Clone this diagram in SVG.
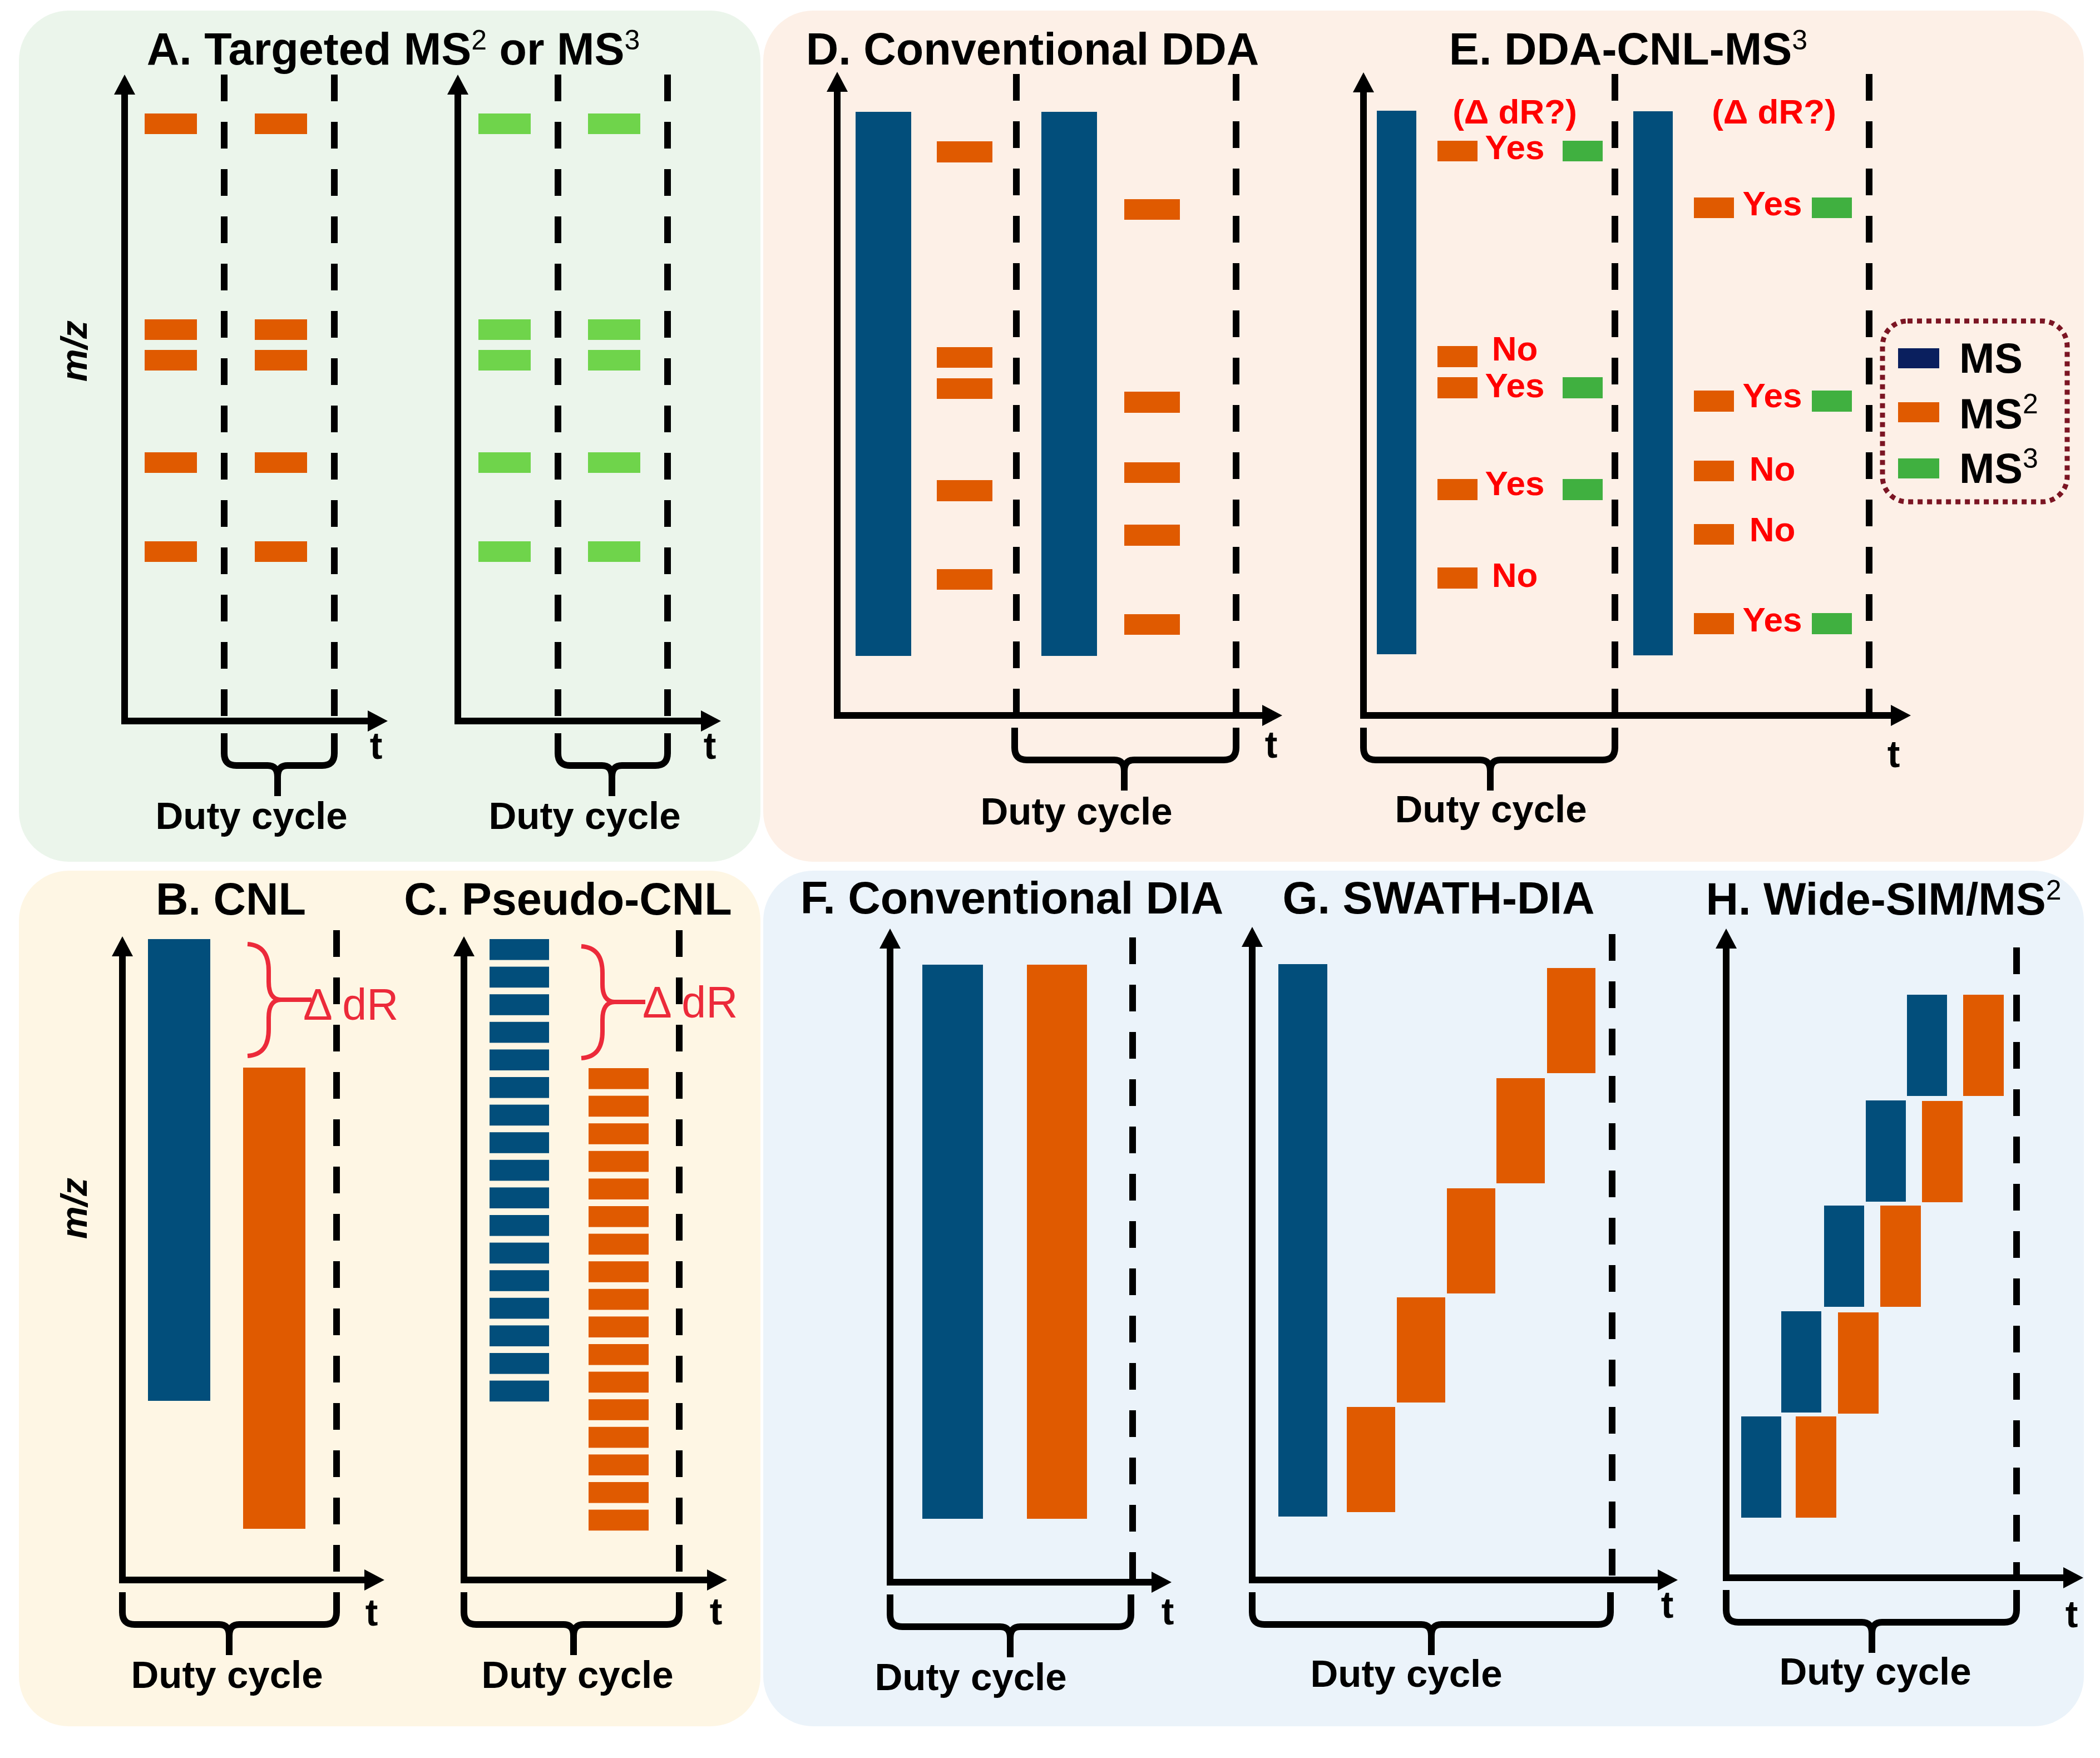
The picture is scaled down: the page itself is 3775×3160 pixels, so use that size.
<svg xmlns="http://www.w3.org/2000/svg" width="3775" height="3160" viewBox="0 0 3775 3160">
<style>
text{font-family:"Liberation Sans",Arial,sans-serif;font-weight:bold;fill:#000}
.ti{font-size:81px;text-anchor:middle}
.sup{font-size:50px;font-weight:normal}
.duty{font-size:69px;text-anchor:middle}
.tl{font-size:68px;text-anchor:middle}
.mz{font-size:66px;font-style:italic;text-anchor:middle}
.red{font-size:62px;text-anchor:middle;fill:#FF0000}
.dr{font-size:79px;font-weight:normal;fill:#EC2A3A}
.ax{fill:none;stroke:#000;stroke-width:12;marker-start:url(#ah);marker-end:url(#ah)}
.dash{stroke:#000;stroke-width:12;stroke-dasharray:48 37}
.br{fill:none;stroke:#000;stroke-width:12}
.rb{fill:none;stroke:#EC2A3A;stroke-width:8}
.o{fill:#E05A00}
.b{fill:#024E7B}
.g1{fill:#6FD44B}
.g2{fill:#40B040}
.lg{font-size:76px}
</style>
<defs>
<marker id="ah" viewBox="0 0 36 38" refX="16" refY="19" markerWidth="36" markerHeight="38" markerUnits="userSpaceOnUse" orient="auto-start-reverse"><path d="M0,0L36,19L0,38z" fill="#000"/></marker>
<path id="rbrace" d="M445,1697 C475,1699 483,1720 483,1745 L483,1765 C483,1785 490,1797 505,1797 C490,1797 483,1809 483,1829 L483,1850 C483,1875 475,1896 445,1898 M503,1797 H560"/>
</defs>
<rect width="3775" height="3160" fill="#fff"/>

<g id="panels">
<rect x="34" y="19" width="1333" height="1530" rx="90" fill="#EBF5EB"/>
<rect x="1372" y="19" width="2374" height="1530" rx="90" fill="#FDF0E7"/>
<rect x="34" y="1565" width="1333" height="1538" rx="90" fill="#FEF6E4"/>
<rect x="1372" y="1565" width="2374" height="1538" rx="90" fill="#EBF3FA"/>
</g>

<g id="panelA">
<text class="ti" x="707" y="116">A. Targeted MS<tspan class="sup" dy="-27">2</tspan><tspan dy="27"> or MS</tspan><tspan class="sup" dy="-27">3</tspan></text>
<text class="mz" transform="translate(156,631) rotate(-90)">m/z</text>
<g id="A-ms2">
<rect class="o" x="260" y="204" width="94" height="37"/><rect class="o" x="458" y="204" width="94" height="37"/>
<rect class="o" x="260" y="574" width="94" height="37"/><rect class="o" x="458" y="574" width="94" height="37"/>
<rect class="o" x="260" y="629" width="94" height="37"/><rect class="o" x="458" y="629" width="94" height="37"/>
<rect class="o" x="260" y="813" width="94" height="37"/><rect class="o" x="458" y="813" width="94" height="37"/>
<rect class="o" x="260" y="973" width="94" height="37"/><rect class="o" x="458" y="973" width="94" height="37"/>
</g>
<g id="A-ms3">
<rect class="g1" x="860" y="204" width="94" height="37"/><rect class="g1" x="1057" y="204" width="94" height="37"/>
<rect class="g1" x="860" y="574" width="94" height="37"/><rect class="g1" x="1057" y="574" width="94" height="37"/>
<rect class="g1" x="860" y="629" width="94" height="37"/><rect class="g1" x="1057" y="629" width="94" height="37"/>
<rect class="g1" x="860" y="813" width="94" height="37"/><rect class="g1" x="1057" y="813" width="94" height="37"/>
<rect class="g1" x="860" y="973" width="94" height="37"/><rect class="g1" x="1057" y="973" width="94" height="37"/>
</g>
<text class="tl" x="676" y="1364">t</text>
<text class="tl" x="1276" y="1364">t</text>
<text class="duty" x="452" y="1490">Duty cycle</text>
<text class="duty" x="1051" y="1490">Duty cycle</text>
</g>

<g id="panelB">
<text class="ti" x="415" y="1644">B. CNL</text>
<text class="mz" transform="translate(156,2172) rotate(-90)">m/z</text>
<rect class="b" x="266" y="1688" width="112" height="830"/>
<rect class="o" x="437" y="1919" width="112" height="829"/>
<use href="#rbrace" class="rb"/>
<text class="dr" x="545" y="1833">Δ dR</text>
<text class="tl" x="668" y="2922">t</text>
<text class="duty" x="408" y="3034">Duty cycle</text>
</g>

<g id="panelC">
<text class="ti" x="1021" y="1644">C. Pseudo-CNL</text>
<g id="C-ms">
<rect class="b" x="880" y="1688" width="107" height="37.6"/><rect class="b" x="880" y="1737.6" width="107" height="37.6"/><rect class="b" x="880" y="1787.2" width="107" height="37.6"/><rect class="b" x="880" y="1836.8" width="107" height="37.6"/><rect class="b" x="880" y="1886.4" width="107" height="37.6"/><rect class="b" x="880" y="1936" width="107" height="37.6"/><rect class="b" x="880" y="1985.6" width="107" height="37.6"/><rect class="b" x="880" y="2035.2" width="107" height="37.6"/><rect class="b" x="880" y="2084.8" width="107" height="37.6"/><rect class="b" x="880" y="2134.4" width="107" height="37.6"/><rect class="b" x="880" y="2184" width="107" height="37.6"/><rect class="b" x="880" y="2233.6" width="107" height="37.6"/><rect class="b" x="880" y="2283.2" width="107" height="37.6"/><rect class="b" x="880" y="2332.8" width="107" height="37.6"/><rect class="b" x="880" y="2382.4" width="107" height="37.6"/><rect class="b" x="880" y="2432" width="107" height="37.6"/><rect class="b" x="880" y="2481.6" width="107" height="37.6"/>
</g>
<g id="C-ms2">
<rect class="o" x="1058" y="1920" width="108" height="37.6"/><rect class="o" x="1058" y="1969.6" width="108" height="37.6"/><rect class="o" x="1058" y="2019.2" width="108" height="37.6"/><rect class="o" x="1058" y="2068.8" width="108" height="37.6"/><rect class="o" x="1058" y="2118.4" width="108" height="37.6"/><rect class="o" x="1058" y="2168" width="108" height="37.6"/><rect class="o" x="1058" y="2217.6" width="108" height="37.6"/><rect class="o" x="1058" y="2267.2" width="108" height="37.6"/><rect class="o" x="1058" y="2316.8" width="108" height="37.6"/><rect class="o" x="1058" y="2366.4" width="108" height="37.6"/><rect class="o" x="1058" y="2416" width="108" height="37.6"/><rect class="o" x="1058" y="2465.6" width="108" height="37.6"/><rect class="o" x="1058" y="2515.2" width="108" height="37.6"/><rect class="o" x="1058" y="2564.8" width="108" height="37.6"/><rect class="o" x="1058" y="2614.4" width="108" height="37.6"/><rect class="o" x="1058" y="2664" width="108" height="37.6"/><rect class="o" x="1058" y="2713.6" width="108" height="37.6"/>
</g>
<use href="#rbrace" class="rb" transform="translate(600,4)"/>
<text class="dr" x="1155" y="1829">Δ dR</text>
<text class="tl" x="1287" y="2920">t</text>
<text class="duty" x="1038" y="3034">Duty cycle</text>
</g>

<g id="panelD">
<text class="ti" x="1856" y="116">D. Conventional DDA</text>
<rect class="b" x="1538" y="201" width="100" height="978"/>
<rect class="b" x="1872" y="201" width="100" height="978"/>
<rect class="o" x="1684" y="254" width="100" height="38"/>
<rect class="o" x="1684" y="624" width="100" height="37"/>
<rect class="o" x="1684" y="680" width="100" height="37"/>
<rect class="o" x="1684" y="863" width="100" height="38"/>
<rect class="o" x="1684" y="1023" width="100" height="37"/>
<rect class="o" x="2021" y="358" width="100" height="37"/>
<rect class="o" x="2021" y="704" width="100" height="38"/>
<rect class="o" x="2021" y="831" width="100" height="37"/>
<rect class="o" x="2021" y="943" width="100" height="38"/>
<rect class="o" x="2021" y="1104" width="100" height="37"/>
<text class="tl" x="2285" y="1362">t</text>
<text class="duty" x="1935" y="1482">Duty cycle</text>
</g>

<g id="panelE">
<text class="ti" x="2927" y="116">E. DDA-CNL-MS<tspan class="sup" dy="-27">3</tspan></text>
<rect class="b" x="2475" y="199" width="71" height="977"/>
<rect class="b" x="2936" y="200" width="71" height="978"/>
<g id="E-left">
<text class="red" x="2723" y="222">(Δ dR?)</text>
<rect class="o" x="2584" y="253" width="72" height="37"/><text class="red" x="2723" y="286">Yes</text><rect class="g2" x="2809" y="253" width="72" height="37"/>
<rect class="o" x="2584" y="622" width="72" height="38"/><text class="red" x="2723" y="648">No</text>
<rect class="o" x="2584" y="678" width="72" height="38"/><text class="red" x="2723" y="714">Yes</text><rect class="g2" x="2809" y="678" width="72" height="38"/>
<rect class="o" x="2584" y="861" width="72" height="38"/><text class="red" x="2723" y="890">Yes</text><rect class="g2" x="2809" y="861" width="72" height="38"/>
<rect class="o" x="2584" y="1020" width="72" height="38"/><text class="red" x="2723" y="1055">No</text>
</g>
<g id="E-right">
<text class="red" x="3189" y="222">(Δ dR?)</text>
<rect class="o" x="3045" y="355" width="72" height="37"/><text class="red" x="3186" y="387">Yes</text><rect class="g2" x="3257" y="355" width="72" height="37"/>
<rect class="o" x="3045" y="702" width="72" height="38"/><text class="red" x="3186" y="732">Yes</text><rect class="g2" x="3257" y="702" width="72" height="38"/>
<rect class="o" x="3045" y="828" width="72" height="37"/><text class="red" x="3186" y="864">No</text>
<rect class="o" x="3045" y="942" width="72" height="37"/><text class="red" x="3186" y="973">No</text>
<rect class="o" x="3045" y="1102" width="72" height="38"/><text class="red" x="3186" y="1135">Yes</text><rect class="g2" x="3257" y="1102" width="72" height="38"/>
</g>
<text class="tl" x="3404" y="1379">t</text>
<text class="duty" x="2680" y="1478">Duty cycle</text>
</g>

<g id="legend">
<rect x="3384" y="577" width="332" height="325" rx="45" fill="none" stroke="#7B1523" stroke-width="9" stroke-dasharray="9 8"/>
<rect x="3412" y="626" width="74" height="36" fill="#0A1F5E"/>
<rect x="3412" y="723" width="74" height="36" class="o"/>
<rect x="3412" y="824" width="74" height="36" class="g2"/>
<text class="lg" x="3522" y="670">MS</text>
<text class="lg" x="3522" y="770">MS<tspan class="sup" dy="-27">2</tspan></text>
<text class="lg" x="3522" y="868">MS<tspan class="sup" dy="-27">3</tspan></text>
</g>

<g id="panelF">
<text class="ti" x="1819" y="1642">F. Conventional DIA</text>
<rect class="b" x="1658" y="1734" width="109" height="996"/>
<rect class="o" x="1846" y="1734" width="108" height="996"/>
<text class="tl" x="2099" y="2920">t</text>
<text class="duty" x="1745" y="3038">Duty cycle</text>
</g>

<g id="panelG">
<text class="ti" x="2586" y="1642">G. SWATH-DIA</text>
<rect class="b" x="2298" y="1733" width="88" height="993"/>
<rect class="o" x="2421" y="2529" width="87" height="189"/>
<rect class="o" x="2511" y="2332" width="87" height="189"/>
<rect class="o" x="2601" y="2136" width="87" height="189"/>
<rect class="o" x="2690" y="1938" width="87" height="189"/>
<rect class="o" x="2781" y="1740" width="87" height="189"/>
<text class="tl" x="2997" y="2908">t</text>
<text class="duty" x="2528" y="3032">Duty cycle</text>
</g>

<g id="panelH">
<text class="ti" x="3386" y="1644">H. Wide-SIM/MS<tspan class="sup" dy="-27">2</tspan></text>
<rect class="b" x="3130" y="2546" width="72" height="182"/>
<rect class="b" x="3202" y="2357" width="72" height="182"/>
<rect class="b" x="3279" y="2167" width="72" height="182"/>
<rect class="b" x="3354" y="1978" width="72" height="182"/>
<rect class="b" x="3428" y="1788" width="72" height="182"/>
<rect class="o" x="3228" y="2546" width="73" height="182"/>
<rect class="o" x="3304" y="2359" width="73" height="182"/>
<rect class="o" x="3380" y="2167" width="73" height="182"/>
<rect class="o" x="3455" y="1979" width="73" height="182"/>
<rect class="o" x="3529" y="1788" width="73" height="182"/>
<text class="tl" x="3724" y="2925">t</text>
<text class="duty" x="3371" y="3028">Duty cycle</text>
</g>

<g id="connectors">
<g id="dashes">
<line class="dash" x1="403" y1="134" x2="403" y2="1296"/>
<line class="dash" x1="601" y1="134" x2="601" y2="1296"/>
<line class="dash" x1="1003" y1="134" x2="1003" y2="1296"/>
<line class="dash" x1="1200" y1="134" x2="1200" y2="1296"/>
<line class="dash" x1="605" y1="1672" x2="605" y2="2840"/>
<line class="dash" x1="1221" y1="1672" x2="1221" y2="2840"/>
<line class="dash" x1="1827" y1="133" x2="1827" y2="1286"/>
<line class="dash" x1="2222" y1="133" x2="2222" y2="1286"/>
<line class="dash" x1="2903" y1="133" x2="2903" y2="1286"/>
<line class="dash" x1="3360" y1="133" x2="3360" y2="1286"/>
<line class="dash" x1="2036" y1="1685" x2="2036" y2="2844"/>
<line class="dash" x1="2898" y1="1679" x2="2898" y2="2840"/>
<line class="dash" x1="3625" y1="1703" x2="3625" y2="2836"/>
</g>
<g id="axes">
<path class="ax" d="M224,154 V1296 H677"/>
<path class="ax" d="M823,154 V1296 H1276"/>
<path class="ax" d="M220,1703 V2840 H671"/>
<path class="ax" d="M834,1703 V2840 H1287"/>
<path class="ax" d="M1505,149 V1286 H2285"/>
<path class="ax" d="M2451,150 V1286 H3415"/>
<path class="ax" d="M1600,1689 V2844 H2086"/>
<path class="ax" d="M2251,1686 V2840 H2996"/>
<path class="ax" d="M3103,1689 V2836 H3725"/>
</g>
<g id="braces">
<path class="br" d="M403,1318 V1354 Q403,1376 425,1376 H481 Q499,1376 499,1396 V1431 M499,1396 Q499,1376 517,1376 H579 Q601,1376 601,1354 V1318"/>
<path class="br" d="M1003,1318 V1354 Q1003,1376 1025,1376 H1082 Q1100,1376 1100,1396 V1431 M1100,1396 Q1100,1376 1118,1376 H1178 Q1200,1376 1200,1354 V1318"/>
<path class="br" d="M220,2862 V2898 Q220,2920 242,2920 H394 Q412,2920 412,2940 V2975 M412,2940 Q412,2920 430,2920 H583 Q605,2920 605,2898 V2862"/>
<path class="br" d="M834,2862 V2898 Q834,2920 856,2920 H1013 Q1031,2920 1031,2940 V2975 M1031,2940 Q1031,2920 1049,2920 H1199 Q1221,2920 1221,2898 V2862"/>
<path class="br" d="M1824,1308 V1344 Q1824,1366 1846,1366 H2003 Q2021,1366 2021,1386 V1421 M2021,1386 Q2021,1366 2039,1366 H2200 Q2222,1366 2222,1344 V1308"/>
<path class="br" d="M2451,1308 V1344 Q2451,1366 2473,1366 H2661 Q2679,1366 2679,1386 V1421 M2679,1386 Q2679,1366 2697,1366 H2881 Q2903,1366 2903,1344 V1308"/>
<path class="br" d="M1600,2866 V2902 Q1600,2924 1622,2924 H1798 Q1816,2924 1816,2944 V2979 M1816,2944 Q1816,2924 1834,2924 H2011 Q2033,2924 2033,2902 V2866"/>
<path class="br" d="M2251,2862 V2898 Q2251,2920 2273,2920 H2555 Q2573,2920 2573,2940 V2975 M2573,2940 Q2573,2920 2591,2920 H2873 Q2895,2920 2895,2898 V2862"/>
<path class="br" d="M3103,2858 V2894 Q3103,2916 3125,2916 H3347 Q3365,2916 3365,2936 V2971 M3365,2936 Q3365,2916 3383,2916 H3603 Q3625,2916 3625,2894 V2858"/>
</g>
</g>
</svg>
